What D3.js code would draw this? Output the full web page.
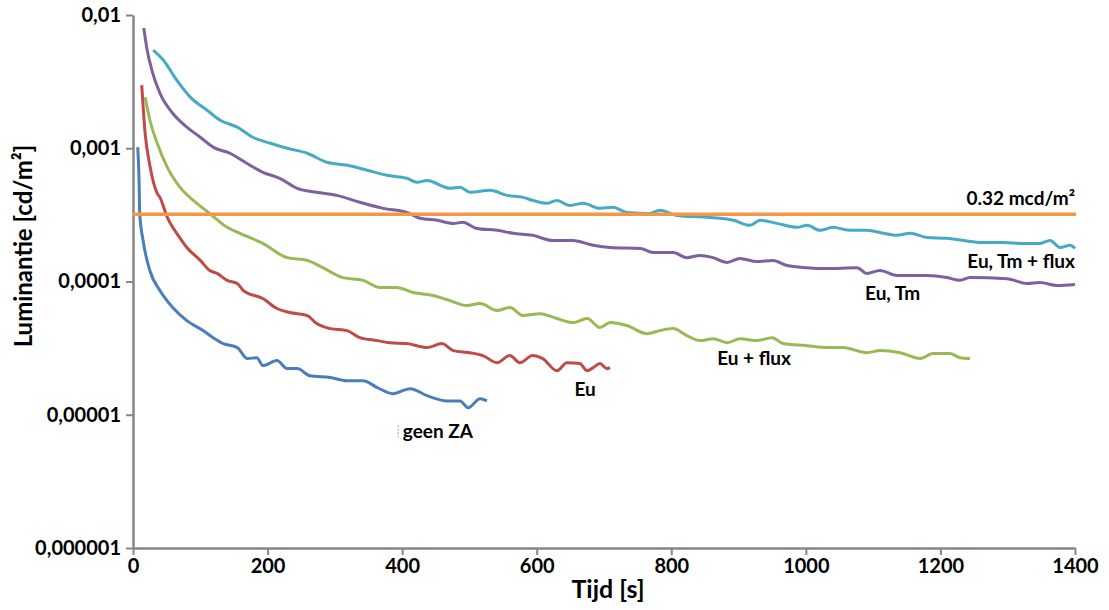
<!DOCTYPE html>
<html>
<head>
<meta charset="utf-8">
<script src="https://cdn.jsdelivr.net/npm/d3@7"></script>
<style>
  body { margin: 0; background: #fff; }
  text { font-family: Lato, "Open Sans", sans-serif; font-weight: bold; fill: #000; }
</style>
</head>
<body>
<div id="chart"></div>
<script>
// tick labels
var xTicks = [0, 200, 400, 600, 800, 1000, 1200, 1400];
var yTicks = [1e-6, 1e-5, 1e-4, 1e-3, 1e-2];
var yTickLabels = ["0,000001", "0,00001", "0,0001", "0,001", "0,01"];

// series: time [s] / luminance [cd/m2]
var seriesNames = ["geen ZA", "Eu", "Eu + flux", "Eu, Tm", "Eu, Tm + flux"];
var seriesColors = ["#4a7ebb", "#be4b48", "#98b954", "#7d60a0", "#46aac5"];

var geenT = [7, 9, 10, 15, 25, 40, 59, 80, 104, 119, 134, 155, 170, 184, 193, 214, 229, 244, 263, 293, 318, 342, 363, 386, 412, 437, 467, 486, 498, 516, 526];
var geenL = [1.02e-3, 5.74e-4, 3.24e-4, 2.03e-4, 1.21e-4, 8.55e-5, 6.38e-5, 5.09e-5, 4.28e-5, 3.79e-5, 3.42e-5, 3.19e-5, 2.64e-5, 2.68e-5, 2.34e-5, 2.55e-5, 2.22e-5, 2.22e-5, 1.96e-5, 1.90e-5, 1.80e-5, 1.80e-5, 1.60e-5, 1.44e-5, 1.57e-5, 1.39e-5, 1.27e-5, 1.27e-5, 1.13e-5, 1.32e-5, 1.27e-5];

var euT = [13, 18, 25, 36, 40, 51, 59, 65, 80, 100, 114, 125, 140, 155, 164, 193, 214, 233, 259, 273, 293, 318, 337, 363, 382, 407, 437, 459, 476, 501, 520, 541, 560, 575, 594, 609, 630, 645, 664, 675, 684, 694, 704, 709];
var euL = [2.98e-3, 1.30e-3, 7.45e-4, 4.59e-4, 4.28e-4, 3.03e-4, 2.55e-4, 2.30e-4, 1.80e-4, 1.44e-4, 1.21e-4, 1.15e-4, 1.02e-4, 9.66e-5, 8.55e-5, 7.45e-5, 6.27e-5, 5.85e-5, 5.55e-5, 4.83e-5, 4.43e-5, 4.28e-5, 3.79e-5, 3.60e-5, 3.47e-5, 3.42e-5, 3.19e-5, 3.42e-5, 3.03e-5, 2.92e-5, 2.78e-5, 2.46e-5, 2.78e-5, 2.46e-5, 2.78e-5, 2.64e-5, 2.14e-5, 2.46e-5, 2.42e-5, 2.14e-5, 2.26e-5, 2.42e-5, 2.22e-5, 2.26e-5];

var euFluxT = [18, 25, 36, 51, 70, 95, 114, 140, 159, 193, 229, 259, 282, 312, 342, 367, 392, 416, 446, 471, 496, 516, 541, 560, 580, 605, 630, 654, 675, 694, 709, 734, 764, 783, 803, 823, 843, 862, 883, 902, 927, 950, 966, 1002, 1031, 1055, 1091, 1110, 1140, 1170, 1189, 1214, 1229, 1244];
var euFluxL = [2.42e-3, 1.63e-3, 1.09e-3, 7.19e-4, 5.09e-4, 3.86e-4, 3.24e-4, 2.55e-4, 2.30e-4, 1.93e-4, 1.51e-4, 1.44e-4, 1.27e-4, 1.07e-4, 1.02e-4, 9.02e-5, 9.02e-5, 8.27e-5, 7.85e-5, 7.19e-5, 6.60e-5, 6.84e-5, 6.06e-5, 6.38e-5, 5.55e-5, 5.74e-5, 5.27e-5, 4.92e-5, 5.27e-5, 4.51e-5, 4.92e-5, 4.67e-5, 4.06e-5, 4.28e-5, 4.43e-5, 3.93e-5, 3.60e-5, 3.72e-5, 3.47e-5, 3.72e-5, 3.60e-5, 3.79e-5, 3.42e-5, 3.30e-5, 3.19e-5, 3.19e-5, 2.92e-5, 3.03e-5, 2.92e-5, 2.64e-5, 2.88e-5, 2.88e-5, 2.68e-5, 2.64e-5];

var euTmT = [16, 21, 28, 40, 59, 80, 100, 119, 144, 169, 193, 218, 244, 273, 303, 337, 372, 407, 427, 452, 476, 490, 511, 541, 565, 594, 624, 654, 684, 709, 754, 773, 803, 823, 843, 862, 883, 902, 927, 951, 972, 1002, 1031, 1076, 1091, 1110, 1135, 1180, 1210, 1229, 1244, 1299, 1329, 1348, 1373, 1400];
var euTmL = [7.98e-3, 5.46e-3, 3.86e-3, 2.59e-3, 1.83e-3, 1.44e-3, 1.21e-3, 1.02e-3, 9.17e-4, 7.71e-4, 6.60e-4, 5.95e-4, 5.00e-4, 4.67e-4, 4.43e-4, 3.93e-4, 3.54e-4, 3.30e-4, 2.98e-4, 2.88e-4, 2.73e-4, 2.78e-4, 2.50e-4, 2.42e-4, 2.30e-4, 2.22e-4, 2.03e-4, 2.03e-4, 1.87e-4, 1.80e-4, 1.77e-4, 1.65e-4, 1.65e-4, 1.51e-4, 1.57e-4, 1.51e-4, 1.39e-4, 1.49e-4, 1.41e-4, 1.44e-4, 1.32e-4, 1.27e-4, 1.25e-4, 1.27e-4, 1.15e-4, 1.21e-4, 1.11e-4, 1.11e-4, 1.07e-4, 1.02e-4, 1.07e-4, 1.05e-4, 9.66e-5, 9.83e-5, 9.33e-5, 9.49e-5];

var euTmFluxT = [30, 45, 65, 85, 110, 129, 155, 178, 204, 229, 259, 288, 318, 348, 377, 407, 422, 437, 471, 486, 501, 531, 556, 580, 594, 615, 630, 649, 669, 694, 713, 734, 768, 783, 808, 853, 892, 917, 932, 957, 987, 1002, 1021, 1040, 1066, 1091, 1115, 1135, 1155, 1180, 1210, 1234, 1263, 1293, 1323, 1348, 1363, 1378, 1393, 1400];
var euTmFluxL = [5.46e-3, 4.59e-3, 3.24e-3, 2.42e-3, 1.93e-3, 1.63e-3, 1.44e-3, 1.21e-3, 1.09e-3, 1.00e-3, 9.17e-4, 7.85e-4, 7.45e-4, 6.84e-4, 6.27e-4, 5.95e-4, 5.55e-4, 5.74e-4, 5.00e-4, 5.09e-4, 4.67e-4, 4.83e-4, 4.43e-4, 4.28e-4, 4.06e-4, 3.86e-4, 4.06e-4, 3.72e-4, 3.86e-4, 3.54e-4, 3.60e-4, 3.30e-4, 3.24e-4, 3.42e-4, 3.13e-4, 3.03e-4, 2.88e-4, 2.64e-4, 2.88e-4, 2.73e-4, 2.55e-4, 2.64e-4, 2.42e-4, 2.55e-4, 2.42e-4, 2.42e-4, 2.30e-4, 2.22e-4, 2.30e-4, 2.14e-4, 2.11e-4, 2.03e-4, 1.96e-4, 1.96e-4, 1.93e-4, 1.93e-4, 2.03e-4, 1.80e-4, 1.87e-4, 1.77e-4];

// threshold
var threshold = 3.2e-4;
var thresholdLabel = "0.32 mcd/m²";

var seriesT = [geenT, euT, euFluxT, euTmT, euTmFluxT];
var seriesL = [geenL, euL, euFluxL, euTmL, euTmFluxL];
// label anchor: [time, luminance] where the text sits
var labelT = [401, 672, 923, 1129, 1400];
var labelL = [7.33e-6, 1.51e-5, 2.55e-5, 7.85e-5, 1.37e-4];
var labelAnchor = ["start", "middle", "middle", "middle", "end"];

//layout
var W = 1109, H = 610;
var area = { left: 133, right: 1075, top: 15, bottom: 548 };
var color = { axis: "#868686", thr: "#f79646" };

var x = d3.scaleLinear().domain([0, 1400]).range([area.left, area.right]);
var y = d3.scaleLog().domain([1e-6, 1e-2]).range([area.bottom, area.top]);

var svg = d3.select("#chart").append("svg").attr("width", W).attr("height", H);

// axes
var yAxis = svg.append("g").attr("transform", "translate(" + area.left + ",0)")
  .call(d3.axisLeft(y).tickValues(yTicks).tickSize(7).tickSizeOuter(0).tickPadding(5)
    .tickFormat(function (d, i) { return yTickLabels[i]; }));
var xAxis = svg.append("g").attr("transform", "translate(0," + area.bottom + ")")
  .call(d3.axisBottom(x).tickValues(xTicks).tickSize(7).tickSizeOuter(0).tickPadding(4)
    .tickFormat(d3.format("d")));
[xAxis, yAxis].forEach(function (a) {
  a.select(".domain").attr("stroke", color.axis).attr("stroke-width", 2.5);
  a.selectAll(".tick line").attr("stroke", color.axis).attr("stroke-width", 2);
  a.selectAll(".tick text").style("font-size", "20px").attr("fill", "#000");
});

// axis titles
svg.append("text").attr("x", 608).attr("y", 598)
   .attr("text-anchor", "middle").style("font-size", "25px").text("Tijd [s]");
svg.append("text").attr("transform", "translate(32,246) rotate(-90)")
   .attr("text-anchor", "middle").style("font-size", "24px").text("Luminantie [cd/m²]");

// series lines
var line = d3.line().curve(d3.curveMonotoneX)
  .x(function (d) { return x(d[0]); }).y(function (d) { return y(d[1]); });
for (var i = 0; i < seriesNames.length; i++) {
  var pts = seriesT[i].map(function (t, k) { return [t, seriesL[i][k]]; });
  svg.append("path").datum(pts).attr("d", line).attr("fill", "none")
     .attr("stroke", seriesColors[i]).attr("stroke-width", 3).attr("stroke-linejoin", "round");
}

// threshold line
svg.append("line").attr("x1", x(0)).attr("x2", x(1400) + 1).attr("y1", y(threshold)).attr("y2", y(threshold))
   .attr("stroke", color.thr).attr("stroke-width", 3.5);
svg.append("text").attr("x", x(1400)).attr("y", y(threshold) - 9).attr("text-anchor", "end")
   .style("font-size", "19px").text(thresholdLabel);

// series labels
for (var j = 0; j < seriesNames.length; j++) {
  svg.append("text").attr("x", x(labelT[j])).attr("y", y(labelL[j]))
     .attr("text-anchor", labelAnchor[j]).attr("dominant-baseline", "middle")
     .style("font-size", "19px").text(seriesNames[j]);
}
// small orange mark next to "geen ZA"
svg.append("line").attr("x1", x(394)).attr("x2", x(394)).attr("y1", 425).attr("y2", 438)
   .attr("stroke", color.thr).attr("stroke-width", 1).attr("stroke-dasharray", "2 1.5");
</script>
</body>
</html>
